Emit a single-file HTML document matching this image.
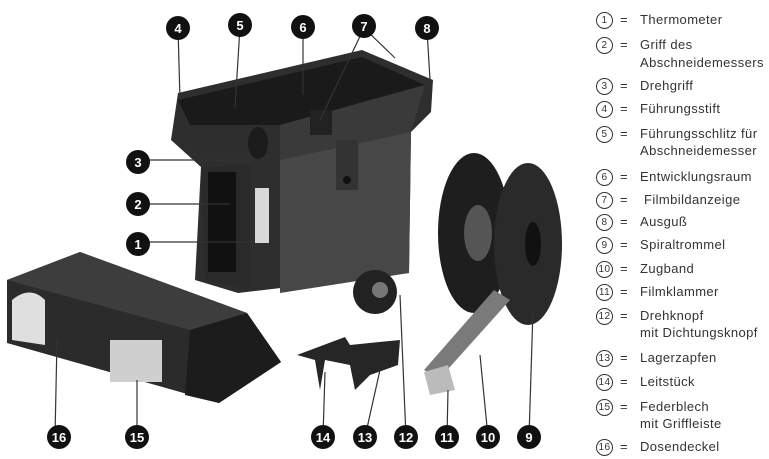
<!DOCTYPE html>
<html><head><meta charset="utf-8"><style>
body{margin:0;background:#fff;}
.w{position:relative;width:769px;height:459px;overflow:hidden;background:#fff;font-family:"Liberation Sans",sans-serif;}
.lg{position:absolute;left:0;top:0;color:#333;font-size:13px;letter-spacing:0.4px;}
.r{position:absolute;left:596px;white-space:nowrap;}
.c{display:inline-block;width:15px;height:15px;border:1.3px solid #333;border-radius:50%;text-align:center;font-size:10px;line-height:15px;vertical-align:middle;margin-right:7px;}
.e{display:inline-block;width:20px;}
</style></head><body><div class="w">
<svg width="769" height="459" style="position:absolute;left:0;top:0">
<polygon points="178,93 362,50 433,80 431,112 411,132 409,273 238,293 195,280 201,167 171,140" fill="#2e2e2e"/>
<polygon points="178,100 362,57 425,85 280,125 190,125" fill="#1a1a1a"/>
<polygon points="280,125 425,85 411,132 280,160" fill="#3a3a3a"/>
<polygon points="280,160 411,132 409,273 280,293" fill="#474747"/>
<polygon points="201,167 250,165 250,290 205,280" fill="#2a2a2a"/>
<rect x="208" y="172" width="28" height="100" fill="#111"/>
<rect x="255" y="188" width="14" height="55" fill="#d8d8d8"/>
<rect x="336" y="140" width="22" height="50" fill="#333"/>
<circle cx="347" cy="180" r="4" fill="#111"/>
<ellipse cx="258" cy="143" rx="10" ry="16" fill="#1b1b1b"/>
<rect x="310" y="110" width="22" height="25" fill="#222"/>
<polygon points="7,280 80,252 247,313 281,362 219,403 7,343" fill="#2b2b2b"/>
<polygon points="7,280 80,252 247,313 190,330" fill="#3d3d3d"/>
<polygon points="190,330 247,313 281,362 219,403 185,395" fill="#1c1c1c"/>
<rect x="110" y="340" width="52" height="42" fill="#cfcfcf"/>
<path d="M12,340 L12,300 Q30,285 45,300 L45,345 Z" fill="#fff" opacity="0.85"/>
<ellipse cx="474" cy="233" rx="36" ry="80" fill="#1e1e1e"/>
<ellipse cx="478" cy="233" rx="14" ry="28" fill="#555"/>
<ellipse cx="528" cy="244" rx="34" ry="81" fill="#2a2a2a"/>
<ellipse cx="533" cy="244" rx="8" ry="22" fill="#111"/>
<polygon points="494,290 510,300 440,378 424,370" fill="#7a7a7a"/>
<polygon points="424,372 448,365 455,390 430,395" fill="#bbb"/>
<circle cx="375" cy="292" r="22" fill="#222"/>
<circle cx="380" cy="290" r="8" fill="#777"/>
<polygon points="297,355 345,337 350,345 400,340 398,365 370,375 355,390 350,365 325,360 320,390 315,360" fill="#262626"/>
</svg>
<svg width="769" height="459" style="position:absolute;left:0;top:0" font-family="Liberation Sans" font-weight="bold" font-size="13" fill="#fff" text-anchor="middle">
<g stroke="#333" stroke-width="1.2">
<line x1="178" y1="28" x2="180" y2="100"/><line x1="240" y1="27" x2="235" y2="108"/><line x1="303" y1="28" x2="303" y2="95"/>
<line x1="364" y1="28" x2="320" y2="120"/><line x1="364" y1="28" x2="395" y2="58"/><line x1="427" y1="30" x2="430" y2="80"/>
<line x1="138" y1="160" x2="250" y2="160"/><line x1="138" y1="204" x2="230" y2="204"/><line x1="138" y1="242" x2="255" y2="242"/>
<line x1="55" y1="437" x2="57" y2="340"/><line x1="137" y1="437" x2="137" y2="380"/><line x1="323" y1="437" x2="325" y2="372"/>
<line x1="365" y1="437" x2="380" y2="370"/><line x1="406" y1="437" x2="400" y2="295"/><line x1="447" y1="437" x2="448" y2="390"/>
<line x1="488" y1="437" x2="480" y2="355"/><line x1="529" y1="437" x2="533" y2="310"/>
</g>
<g fill="#111">
<circle cx="178" cy="28" r="12"/><circle cx="240" cy="25" r="12"/><circle cx="303" cy="27" r="12"/><circle cx="364" cy="26" r="12"/><circle cx="427" cy="28" r="12"/>
<circle cx="138" cy="162" r="12"/><circle cx="138" cy="204" r="12"/><circle cx="138" cy="244" r="12"/>
<circle cx="59" cy="437" r="12"/><circle cx="137" cy="437" r="12"/><circle cx="323" cy="437" r="12"/><circle cx="365" cy="437" r="12"/><circle cx="406" cy="437" r="12"/><circle cx="447" cy="437" r="12"/><circle cx="488" cy="437" r="12"/><circle cx="529" cy="437" r="12"/>
</g>
<text x="178" y="33">4</text><text x="240" y="30">5</text><text x="303" y="32">6</text><text x="364" y="31">7</text><text x="427" y="33">8</text>
<text x="138" y="167">3</text><text x="138" y="209">2</text><text x="138" y="249">1</text>
<text x="59" y="442">16</text><text x="137" y="442">15</text><text x="323" y="442">14</text><text x="365" y="442">13</text><text x="406" y="442">12</text><text x="447" y="442">11</text><text x="488" y="442">10</text><text x="529" y="442">9</text>
</svg>
<div class="lg">
<div class="r" style="top:12px"><span class="c">1</span><span class="e">=</span><span>Thermometer</span></div>
<div class="r" style="top:37px"><span class="c">2</span><span class="e">=</span><span>Griff des</span></div>
<div class="r" style="top:55px;left:640px">Abschneidemessers</div>
<div class="r" style="top:78px"><span class="c">3</span><span class="e">=</span><span>Drehgriff</span></div>
<div class="r" style="top:101px"><span class="c">4</span><span class="e">=</span><span>Führungsstift</span></div>
<div class="r" style="top:126px"><span class="c">5</span><span class="e">=</span><span>Führungsschlitz für</span></div>
<div class="r" style="top:143px;left:640px">Abschneidemesser</div>
<div class="r" style="top:169px"><span class="c">6</span><span class="e">=</span><span>Entwicklungsraum</span></div>
<div class="r" style="top:192px"><span class="c">7</span><span class="e">=</span><span>&nbsp;Filmbildanzeige</span></div>
<div class="r" style="top:214px"><span class="c">8</span><span class="e">=</span><span>Ausguß</span></div>
<div class="r" style="top:237px"><span class="c">9</span><span class="e">=</span><span>Spiraltrommel</span></div>
<div class="r" style="top:261px"><span class="c">10</span><span class="e">=</span><span>Zugband</span></div>
<div class="r" style="top:284px"><span class="c">11</span><span class="e">=</span><span>Filmklammer</span></div>
<div class="r" style="top:308px"><span class="c">12</span><span class="e">=</span><span>Drehknopf</span></div>
<div class="r" style="top:325px;left:640px">mit Dichtungsknopf</div>
<div class="r" style="top:350px"><span class="c">13</span><span class="e">=</span><span>Lagerzapfen</span></div>
<div class="r" style="top:374px"><span class="c">14</span><span class="e">=</span><span>Leitstück</span></div>
<div class="r" style="top:399px"><span class="c">15</span><span class="e">=</span><span>Federblech</span></div>
<div class="r" style="top:416px;left:640px">mit Griffleiste</div>
<div class="r" style="top:439px"><span class="c">16</span><span class="e">=</span><span>Dosendeckel</span></div>
</div>
</div></body></html>
